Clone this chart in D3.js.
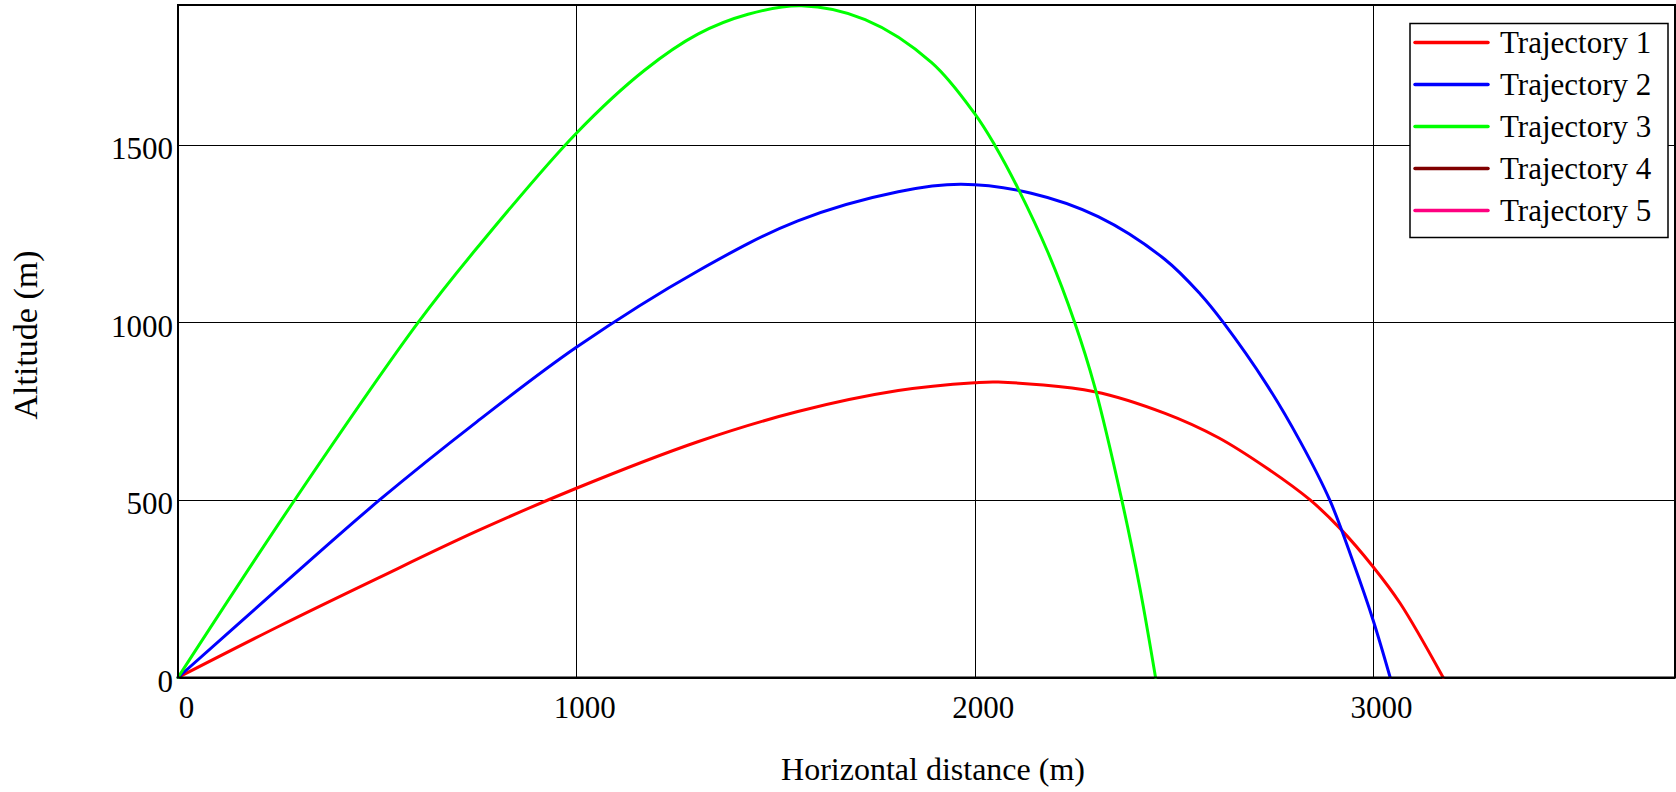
<!DOCTYPE html>
<html>
<head>
<meta charset="utf-8"/>
<script src="https://cdn.jsdelivr.net/npm/d3@7"></script>
<style>
html, body {
  margin: 0;
  padding: 0;
  background: #fff;
  font-family: "Liberation Serif", "Times New Roman", serif;
}
.grid line {
  stroke: #000;
  stroke-width: 1;
  shape-rendering: crispEdges;
}
.grid .domain {
  display: none;
}
.tick text {
  font-family: "Liberation Serif", "Times New Roman", serif;
  font-size: 31px;
  fill: #000;
}
.frame {
  fill: none;
  stroke: #000;
  stroke-width: 2;
}
.traj {
  fill: none;
  stroke-width: 3;
  stroke-linejoin: round;
  stroke-linecap: round;
}
.axis-title {
  fill: #000;
}
.legend-text {
  font-size: 31px;
  fill: #000;
}
</style>
</head>
<body>

<svg id="chart" width="1676" height="792"></svg>

<script type='text/javascript'>

// trajectory names and colours (4 and 5 only show up in the legend)
var names  = ["Trajectory 1", "Trajectory 2", "Trajectory 3", "Trajectory 4", "Trajectory 5"];
var colors = ["#ff0000", "#0000ff", "#00ff00", "#800000", "#ff0080"];

// [horizontal distance (m), altitude (m)]
var traj1 = [[0,0],[251,143],[502,280],[750,412],[1000,533],[1305,664],[1556,749],[1808,808],
             [2000,830],[2059,832],[2301,805],[2478,744],[2611,676],[2733,590],[2842,500],
             [2917,420],[3000,312],[3068,209],[3176,0]];
var traj2 = [[0,0],[251,250],[506,500],[750,720],[1000,930],[1305,1145],[1556,1286],[1808,1368],
             [1966,1389],[2142,1364],[2310,1298],[2477,1178],[2566,1080],[2624,1000],[2733,825],
             [2817,665],[2892,498],[2950,325],[3000,162],[3043,0]];
var traj3 = [[0,0],[293,500],[603,1000],[753,1213],[1000,1533],[1172,1711],[1305,1812],[1431,1868],
             [1565,1892],[1725,1853],[1892,1732],[2000,1588],[2050,1500],[2109,1377],[2184,1197],
             [2251,1000],[2301,820],[2370,496],[2415,250],[2454,0]];
var traj4 = [];
var traj5 = [];

var xTicks = [0, 1000, 2000, 3000];
var yTicks = [0, 500, 1000, 1500];
var xMax = 3758;
var yMax = 1894;

var series = [traj1, traj2, traj3, traj4, traj5];

//---------------------------------------
var margin = {top: 5, right: 1, bottom: 114.5, left: 178};
var svg = d3.select("#chart");
var W = +svg.attr("width"), H = +svg.attr("height");
var width = W - margin.left - margin.right;
var height = H - margin.top - margin.bottom;

svg.append("rect").attr("width", W).attr("height", H).attr("fill", "#fff");

var g = svg.append("g")
    .attr("transform", "translate(" + margin.left + "," + margin.top + ")");

var x = d3.scaleLinear().domain([0, xMax]).range([0, width]);
var y = d3.scaleLinear().domain([0, yMax]).range([height, 0]);

//---------------------------------------
// grid + tick labels
var gx = g.append("g")
    .attr("class", "grid")
    .attr("transform", "translate(0," + height + ")")
    .call(d3.axisBottom(x).tickValues(xTicks).tickSize(-height).tickFormat(d3.format("d")));
gx.selectAll(".tick text")
    .attr("y", 40.5)
    .attr("dy", null)
    .attr("dx", 8);

var gy = g.append("g")
    .attr("class", "grid")
    .call(d3.axisLeft(y).tickValues(yTicks).tickSize(-width).tickFormat(d3.format("d")));
gy.selectAll(".tick text")
    .attr("x", -5)
    .attr("y", 14)
    .attr("dy", null);

//---------------------------------------
// trajectories
var line = d3.line()
    .x(function(d) { return x(d[0]); })
    .y(function(d) { return y(d[1]); })
    .curve(d3.curveCatmullRom.alpha(0.5));

g.selectAll(".traj")
    .data(series)
  .enter().append("path")
    .attr("class", "traj")
    .attr("stroke", function(d, i) { return colors[i]; })
    .attr("d", function(d) { return d.length ? line(d) : null; });

// frame
g.append("rect")
    .attr("class", "frame")
    .attr("x", 0)
    .attr("y", 0)
    .attr("width", width)
    .attr("height", height);

//---------------------------------------
// axis titles
svg.append("text")
    .attr("class", "axis-title")
    .attr("x", 933)
    .attr("y", 780)
    .attr("text-anchor", "middle")
    .style("font-size", "32px")
    .text("Horizontal distance (m)");

svg.append("text")
    .attr("class", "axis-title")
    .attr("transform", "translate(37,335) rotate(-90)")
    .attr("text-anchor", "middle")
    .style("font-size", "34px")
    .text("Altitude (m)");

//---------------------------------------
// legend
var legend = svg.append("g")
    .attr("transform", "translate(1410,23.5)");

legend.append("rect")
    .attr("width", 258)
    .attr("height", 214)
    .attr("fill", "#fff")
    .attr("stroke", "#000")
    .attr("stroke-width", 1.5);

var item = legend.selectAll(".item")
    .data(names)
  .enter().append("g")
    .attr("class", "item")
    .attr("transform", function(d, i) { return "translate(0," + (19 + i * 42) + ")"; });

item.append("line")
    .attr("x1", 5)
    .attr("x2", 78)
    .attr("stroke", function(d, i) { return colors[i]; })
    .attr("stroke-width", 3.5)
    .attr("stroke-linecap", "round");

item.append("text")
    .attr("class", "legend-text")
    .attr("x", 90)
    .attr("y", 10.5)
    .text(function(d) { return d; });

</script>
</body>
</html>
